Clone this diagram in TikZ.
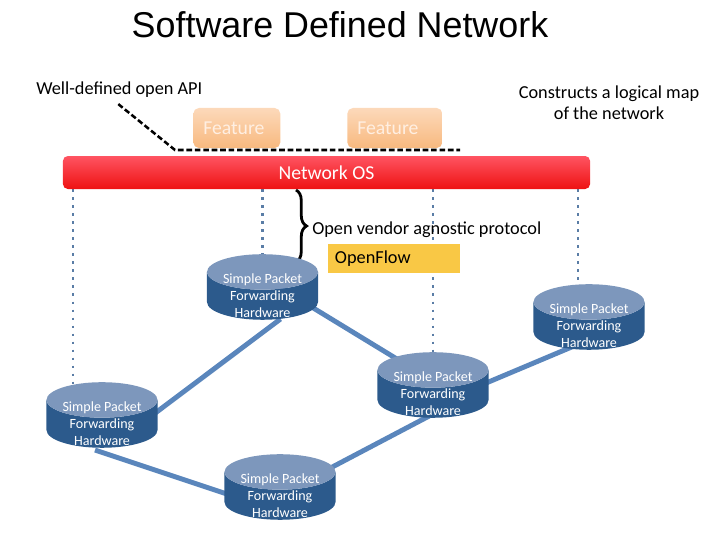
\documentclass[tikz,border=0pt]{standalone}
\usepackage{fontspec}
\setmainfont{Carlito}
\newfontfamily\titlefont{Liberation Sans}
\usetikzlibrary{shapes.geometric,decorations.pathreplacing,calc,backgrounds}

\definecolor{cylbody}{HTML}{2C5A8C}
\definecolor{cyltop}{HTML}{7D97BC}
\definecolor{linkblue}{HTML}{5A86BC}
\definecolor{dotblue}{HTML}{5A7DA6}
\definecolor{osred}{HTML}{EE1212}
\definecolor{oslight}{HTML}{FF5462}
\definecolor{featlight}{HTML}{FCD9BA}
\definecolor{featdark}{HTML}{F8B97F}
\definecolor{feattext}{HTML}{FFEFE2}
\definecolor{flowyellow}{HTML}{F9C845}

\begin{document}
\begin{tikzpicture}[x=0.025cm, y=-0.025cm,
    note/.style={inner sep=0pt, font=\fontsize{13}{15}\selectfont},
    feature/.style={rounded corners=4pt, top color=featlight, bottom color=featdark, text=feattext,
        font=\fontsize{14}{16}\selectfont, minimum height=1cm, inner xsep=0.25cm, align=left, anchor=west},
    switch/.style={cylinder, shape border rotate=90, aspect=0.45, cylinder uses custom fill,
        cylinder body fill=cylbody, cylinder end fill=cyltop, minimum width=2.775cm, minimum height=1.6cm,
        inner sep=0pt, font=\fontsize{10}{12}\selectfont},
    swtext/.style={inner sep=0pt, text=white, align=center, font=\fontsize{10}{12}\selectfont},
    link/.style={draw=linkblue, line width=3.5pt},
    ctl/.style={draw=dotblue, line width=2pt, dash pattern=on 2pt off 3.7pt},
    apiline/.style={line width=1.8pt, dash pattern=on 4pt off 2pt}]
    \useasboundingbox (0,0) rectangle (720,540);

    \node (title) at (340,25) {\titlefont\fontsize{25.5}{30}\selectfont Software Defined Network};
    \node[note, anchor=west] (apilbl) at (36,90) {Well-defined open API};
    \node[note, align=center] (maplbl) at (609,103) {Constructs a logical map\\of the network};

    \node[feature, text width=1.675cm] (f1) at (193,128) {Feature};
    \node[feature, text width=1.875cm] (f2) at (347,128) {Feature};

    \node[rounded corners=3.5pt, top color=oslight, bottom color=osred, text=white,
        minimum width=13.175cm, minimum height=0.825cm, font=\fontsize{14}{16}\selectfont] (nos) at (326.5,172.5) {Network OS};

    \coordinate (apibend) at (175,150);
    \coordinate (apiend) at (460,150);
    \draw[apiline] ($(apilbl.south)+(-1,6)$) -- (apibend) -- (apiend);

    \coordinate (bracetop) at (296,190);
    \coordinate (bracebot) at (296,262);
    \draw[line width=2pt, decorate, decoration={brace, amplitude=7.5pt}] (bracetop) -- (bracebot);
    \node[note, anchor=west] (proto) at (312,230) {Open vendor agnostic protocol};
    \node[fill=flowyellow, minimum height=0.725cm, text width=2.95cm, inner xsep=0.175cm, align=left,
        font=\fontsize{13}{15}\selectfont] (flow) at (394,258.5) {OpenFlow};

    \node[switch, label={[swtext]center:{Simple Packet\\Forwarding\\Hardware}}] (c1) at (262.5,296) {\phantom{Simple Packet}};
    \node[switch, label={[swtext]center:{Simple Packet\\Forwarding\\Hardware}}] (c2) at (589,326) {\phantom{Simple Packet}};
    \node[switch, label={[swtext]center:{Simple Packet\\Forwarding\\Hardware}}] (c3) at (433,394) {\phantom{Simple Packet}};
    \node[switch, label={[swtext]center:{Simple Packet\\Forwarding\\Hardware}}] (c4) at (102,424) {\phantom{Simple Packet}};
    \node[switch, label={[swtext]center:{Simple Packet\\Forwarding\\Hardware}}] (c5) at (280,496) {\phantom{Simple Packet}};

    \begin{scope}[on background layer]
        \draw[ctl] ($(nos.south -| c4.center)+(-29,0)$) -- ($(c4.center)+(-29,0)$);
        \draw[ctl] (nos.south -| c1.center) -- (c1.center);
        \draw[ctl] (nos.south -| c3.center) -- (c3.center);
        \draw[ctl] ($(nos.south -| c2.center)+(-11,0)$) -- ($(c2.center)+(-11,0)$);
        \draw[link] ($(c1)+(18,-8)$) -- ($(c3)+(0,-13)$);
        \draw[link] ($(c1)+(18,23)$) -- ($(c4)+(28,8)$);
        \draw[link] ($(c4)+(-7,26)$) -- ($(c5)+(-20,9)$);
        \draw[link] ($(c5)+(20,-12)$) -- ($(c3)+(0,20)$);
        \draw[link] ($(c3)+(27,0)$) -- ($(c2)+(-9,17.5)$);
    \end{scope}
\end{tikzpicture}
\end{document}
